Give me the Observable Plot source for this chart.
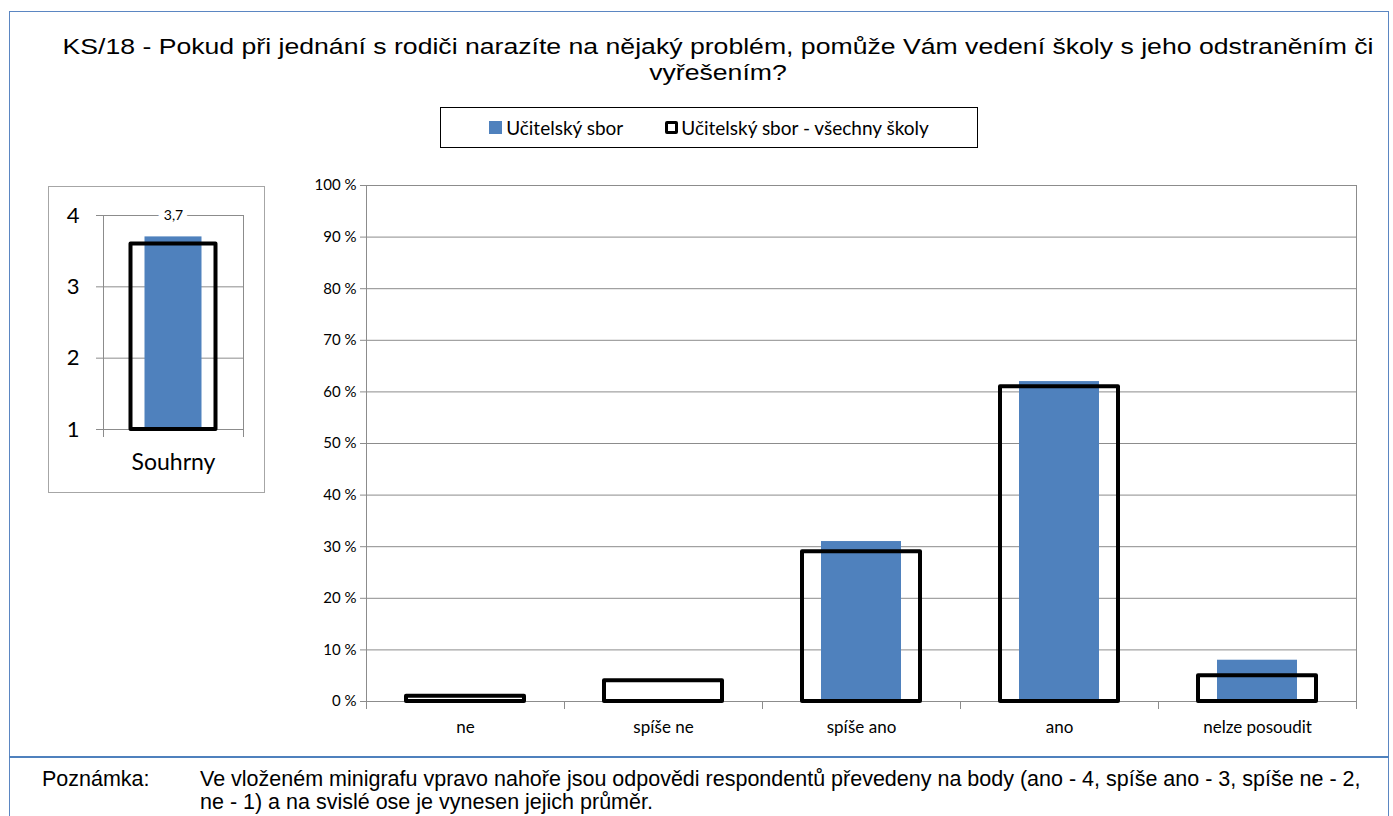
<!DOCTYPE html>
<html>
<head>
<meta charset="utf-8">
<script src="https://cdn.jsdelivr.net/npm/d3@7"></script>
<script src="https://cdn.jsdelivr.net/npm/@observablehq/plot@0.6"></script>
<style>
  html, body { margin: 0; padding: 0; background: #fff; width: 1393px; height: 816px; overflow: hidden; }
  body { position: relative; font-family: "Liberation Sans", Arial, sans-serif; }
  #frame { position: absolute; left: 9px; top: 11px; width: 1378px; height: 830px; border: 1px solid #5b86c2; }
  #title { position: absolute; left: 18px; width: 1400px; top: 34px; text-align: center; font-size: 22px; line-height: 26px; color: #000;
           transform: scaleX(1.21); transform-origin: 700px 0; }
  #legend { position: absolute; left: 440px; top: 107px; width: 538px; height: 41px; border: 1px solid #000; box-sizing: border-box;
            font-family: Lato, "Open Sans", sans-serif; font-size: 19px; display: flex; align-items: center; justify-content: center; }
  .sw { display: inline-block; width: 13px; height: 13px; margin-right: 4px; box-sizing: border-box; }
  .item { display: inline-flex; align-items: center; white-space: nowrap; }
  #mini-box { position: absolute; left: 48px; top: 186px; width: 217px; height: 307px; border: 1px solid #a6a6a6; box-sizing: border-box; }
  #mini { position: absolute; left: 48px; top: 188px; }
  #main { position: absolute; left: 300px; top: 170px; }
  #sep { position: absolute; left: 9px; top: 756px; width: 1380px; height: 2px; background: #4f81bd; }
  #note-label { position: absolute; left: 42px; top: 768px; font-size: 21.5px; line-height: 23px; }
  #note { position: absolute; left: 200px; top: 768px; font-size: 21.5px; line-height: 23px; white-space: nowrap; }
</style>
</head>
<body>
<div id="frame"></div>
<div id="title"></div>
<div id="legend"></div>
<div id="mini-box"></div>
<div id="mini"></div>
<div id="main"></div>
<div id="sep"></div>
<div id="note-label"></div>
<div id="note"></div>
<script>
// ---------- data ----------
const titleLines = ["KS/18 - Pokud při jednání s rodiči narazíte na nějaký problém, pomůže Vám vedení školy s jeho odstraněním či", "vyřešením?"];
const seriesNames = ["Učitelský sbor", "Učitelský sbor - všechny školy"];
const categories = ["ne", "spíše ne", "spíše ano", "ano", "nelze posoudit"];
const schoolValues = [0, 0, 31, 62, 8];        // Učitelský sbor (%)
const allSchoolsValues = [1, 4, 29, 61, 5];    // Učitelský sbor - všechny školy (%)
const yTicks = [0, 10, 20, 30, 40, 50, 60, 70, 80, 90, 100];
const summaryCategory = ["Souhrny"];
const summarySchool = [3.7];
const summaryAll = [3.6];
const summaryTicks = [1, 2, 3, 4];
const noteLabel = "Poznámka:";
const noteLines = ["Ve vloženém minigrafu vpravo nahoře jsou odpovědi respondentů převedeny na body (ano - 4, spíše ano - 3, spíše ne - 2,",
                   "ne - 1) a na svislé ose je vynesen jejich průměr."];

const BLUE = "#4f81bd";
const GRID = "#8c8c8c";

// ---------- text blocks ----------
document.getElementById("title").innerHTML = titleLines.join("<br>");
document.getElementById("note-label").textContent = noteLabel;
document.getElementById("note").innerHTML = noteLines.join("<br>");
const leg = document.getElementById("legend");
leg.innerHTML =
  `<span class="item"><span class="sw" style="background:${BLUE}"></span>${seriesNames[0]}</span>` +
  `<span class="item" style="margin-left:42px"><span class="sw" style="border:3px solid #000;border-radius:2px;margin-right:3px"></span>${seriesNames[1]}</span>`;

// ---------- main chart ----------
const mainData = categories.map((c, i) => ({category: c, school: schoolValues[i], all: allSchoolsValues[i]}));
const W = 1070, H = 570, ML = 66, MR = 14, MT = 15, MB = 39;
const band = (W - ML - MR) / categories.length;
const blueInset = (band - 80) / 2;
const outlineInset = (band - 118) / 2;

const main = Plot.plot({
  width: W, height: H,
  marginLeft: ML, marginRight: MR, marginTop: MT, marginBottom: MB,
  style: {fontFamily: "Lato, 'Open Sans', sans-serif", fontSize: "14px", color: "#000", background: "transparent"},
  x: {domain: categories, padding: 0},
  y: {domain: [0, 100]},
  marks: [
    Plot.ruleY(yTicks, {stroke: GRID, strokeWidth: 1}),
    Plot.frame({stroke: GRID}),
    Plot.ruleX(categories, {x: d => d, y1: 0, y2: 0, insetBottom: -8, dx: -band / 2, stroke: GRID}),
    Plot.ruleX(categories.slice(-1), {x: d => d, y1: 0, y2: 0, insetBottom: -8, dx: band / 2, stroke: GRID}),
    Plot.axisY(yTicks, {tickSize: 6, tickPadding: 4, stroke: GRID, fill: "#000", fontSize: 15, tickFormat: d => d + " %", label: null}),
    Plot.axisX({tickSize: 0, tickPadding: 19, fontSize: 17, fill: "#000", label: null}),
    Plot.barY(mainData, {x: "category", y: "school", fill: BLUE, insetLeft: blueInset, insetRight: blueInset}),
    Plot.barY(mainData, {x: "category", y: "all", fill: "none", stroke: "#000", strokeWidth: 4, strokeLinejoin: "round",
                         insetLeft: outlineInset, insetRight: outlineInset})
  ]
});
document.getElementById("main").appendChild(main);

// ---------- mini chart ----------
const miniData = summaryCategory.map((c, i) => ({category: c, school: summarySchool[i], all: summaryAll[i]}));
const mW = 217, mH = 305, mML = 55, mMR = 22, mMT = 27, mMB = 64;
const mBand = mW - mML - mMR;
const fmt = d => String(d).replace(".", ",");
const mini = Plot.plot({
  width: mW, height: mH,
  marginLeft: mML, marginRight: mMR, marginTop: mMT, marginBottom: mMB,
  style: {fontFamily: "Lato, 'Open Sans', sans-serif", fontSize: "22px", color: "#000", background: "transparent"},
  x: {domain: summaryCategory, padding: 0},
  y: {domain: [summaryTicks[0], summaryTicks[summaryTicks.length - 1]]},
  marks: [
    Plot.ruleY(summaryTicks, {stroke: GRID}),
    Plot.frame({stroke: GRID}),
    Plot.ruleX(summaryCategory, {x: d => d, y1: summaryTicks[0], y2: summaryTicks[0], insetBottom: -8, dx: -mBand / 2, stroke: GRID}),
    Plot.ruleX(summaryCategory, {x: d => d, y1: summaryTicks[0], y2: summaryTicks[0], insetBottom: -8, dx: mBand / 2, stroke: GRID}),
    Plot.axisY(summaryTicks, {tickSize: 7, tickPadding: 17, stroke: GRID, fill: "#000", fontSize: 22, tickFormat: d => String(d), label: null}),
    Plot.axisX({tickSize: 0, tickPadding: 24, fontSize: 23, fill: "#000", label: null}),
    Plot.barY(miniData, {x: "category", y1: summaryTicks[0], y2: "school", fill: BLUE, insetLeft: (mBand - 57) / 2, insetRight: (mBand - 57) / 2}),
    Plot.barY(miniData, {x: "category", y1: summaryTicks[0], y2: "all", fill: "none", stroke: "#000", strokeWidth: 4, strokeLinejoin: "round",
                         insetLeft: (mBand - 85) / 2, insetRight: (mBand - 85) / 2}),
    Plot.text(miniData, {x: "category", y: () => summaryTicks[summaryTicks.length - 1], text: d => fmt(d.school),
                         fontSize: 14, fill: "#000", stroke: "white", strokeWidth: 12, paintOrder: "stroke"})
  ]
});
document.getElementById("mini").appendChild(mini);
</script>
</body>
</html>
